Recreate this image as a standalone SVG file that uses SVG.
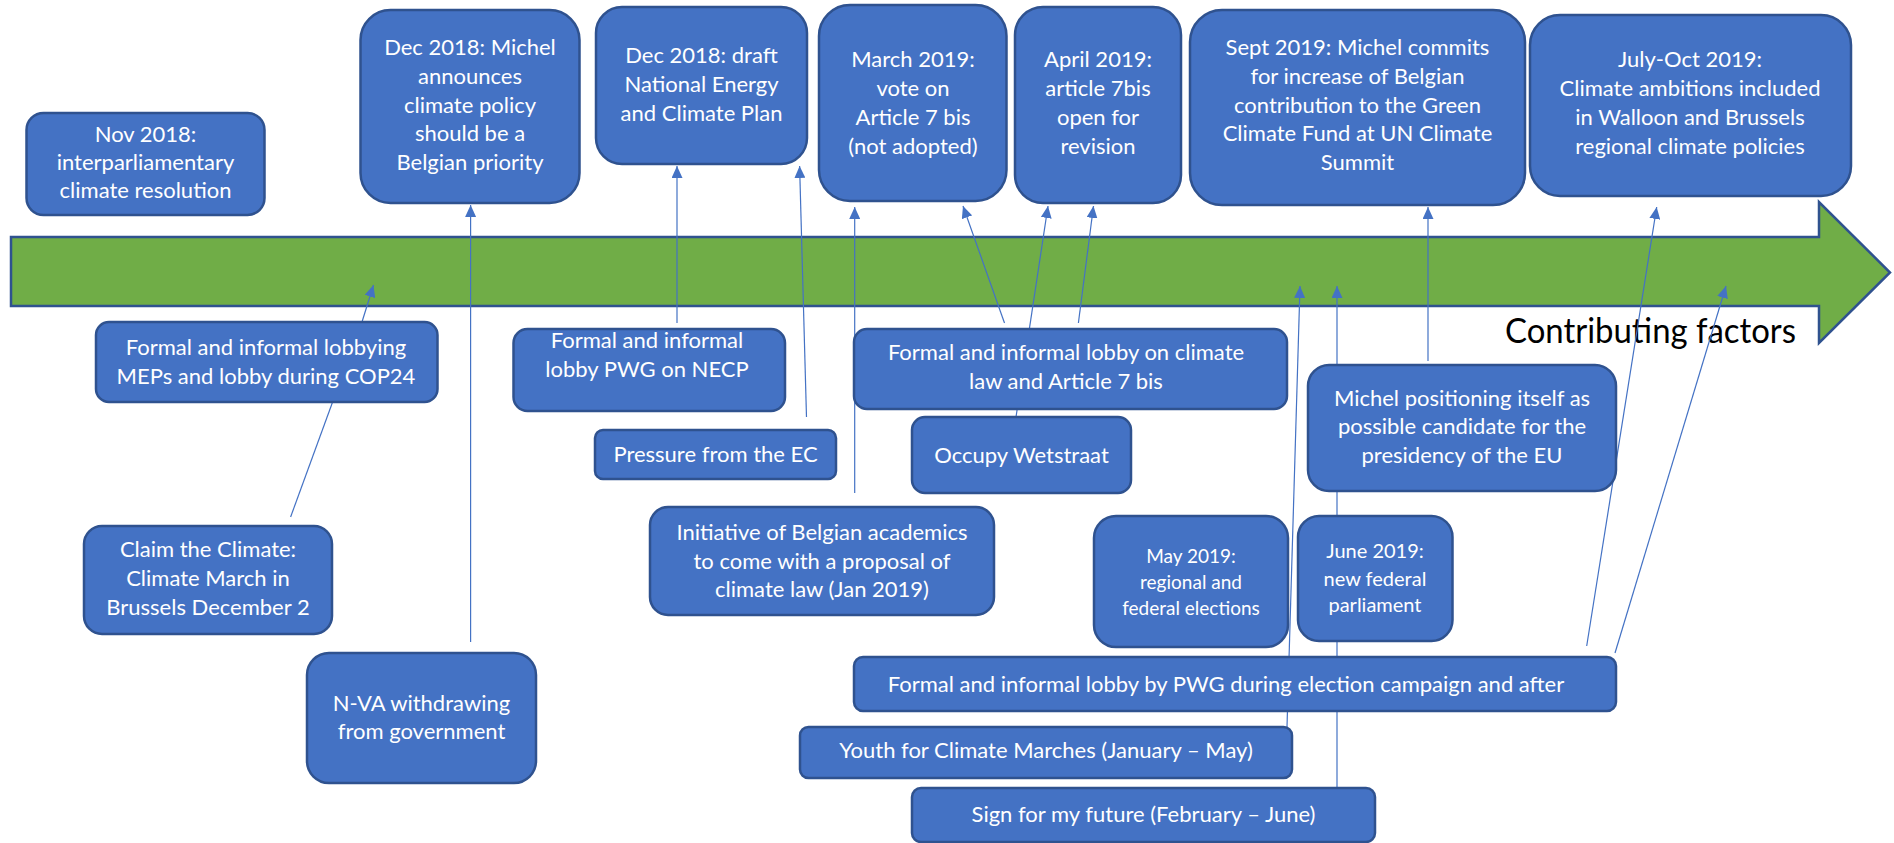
<svg xmlns="http://www.w3.org/2000/svg" width="1894" height="843" viewBox="0 0 1894 843">
<style>
.box{fill:#4472C4;stroke:#2F528F;stroke-width:2.5}
.t{font-family:Lato,"Open Sans","Liberation Sans",sans-serif;font-size:22px;fill:#ffffff;text-anchor:middle}
.ts{font-family:Lato,"Open Sans","Liberation Sans",sans-serif;font-size:19px;fill:#ffffff;text-anchor:middle}
.tj{font-family:Lato,"Open Sans","Liberation Sans",sans-serif;font-size:20px;fill:#ffffff;text-anchor:middle}
.c{stroke:#4472C4;stroke-width:1.2;fill:none}
.ca{stroke:#4472C4;stroke-width:1.2;fill:none;marker-end:url(#ah)}
</style>
<defs>
<marker id="ah" markerUnits="userSpaceOnUse" markerWidth="12" markerHeight="11" refX="12" refY="5.5" orient="auto">
<path d="M0,0 L12,5.5 L0,11 Z" fill="#4472C4"/>
</marker>
</defs>
<rect width="1894" height="843" fill="#ffffff"/>
<g id="timeline">
<path d="M11,237 L1819,237 L1819,202 L1890,272.5 L1819,343 L1819,306 L11,306 Z" fill="#70AD47" stroke="#2F528F" stroke-width="2.5"/>
<text x="1505" y="343" font-family="Lato,'Open Sans','Liberation Sans',sans-serif" font-size="34" fill="#000000" textLength="291" lengthAdjust="spacingAndGlyphs">Contributing factors</text>
</g>
<g id="connectors">
<line class="ca" x1="362" y1="322" x2="373.5" y2="285"/>
<line class="c" x1="290.6" y1="517" x2="332.6" y2="402"/>
<line class="ca" x1="470.6" y1="642" x2="470.6" y2="205"/>
<line class="ca" x1="677" y1="323" x2="677" y2="166"/>
<line class="ca" x1="806.5" y1="417" x2="799.6" y2="166"/>
<line class="ca" x1="854.7" y1="493" x2="854.7" y2="207"/>
<line class="ca" x1="1004.5" y1="323" x2="963" y2="206"/>
<line class="ca" x1="1016" y1="417" x2="1048" y2="206"/>
<line class="ca" x1="1078.4" y1="323" x2="1093.5" y2="206"/>
<line class="ca" x1="1287" y1="727" x2="1300" y2="286"/>
<line class="ca" x1="1337" y1="787" x2="1337" y2="286"/>
<line class="ca" x1="1428" y1="361" x2="1428" y2="207"/>
<line class="ca" x1="1586.7" y1="646" x2="1656.7" y2="207"/>
<line class="ca" x1="1615" y1="653" x2="1726" y2="286"/>
</g>
<g id="nov2018">
<rect class="box" x="26.5" y="113" width="238" height="102" rx="17"/>
<text class="t" x="145.5" y="142">Nov 2018:</text>
<text class="t" x="145.5" y="170">interparliamentary</text>
<text class="t" x="145.5" y="198">climate resolution</text>
</g>
<g id="dec2018michel">
<rect class="box" x="360.5" y="10" width="219" height="193" rx="30"/>
<text class="t" x="470" y="55">Dec 2018: Michel</text>
<text class="t" x="470" y="84">announces</text>
<text class="t" x="470" y="112.5">climate policy</text>
<text class="t" x="470" y="141">should be a</text>
<text class="t" x="470" y="169.5">Belgian priority</text>
</g>
<g id="dec2018draft">
<rect class="box" x="596" y="7" width="211" height="157" rx="26"/>
<text class="t" x="701.5" y="63">Dec 2018: draft</text>
<text class="t" x="701.5" y="92">National Energy</text>
<text class="t" x="701.5" y="121">and Climate Plan</text>
</g>
<g id="march2019">
<rect class="box" x="819" y="5" width="187.5" height="196" rx="31"/>
<text class="t" x="913" y="66.5">March 2019:</text>
<text class="t" x="913" y="95.5">vote on</text>
<text class="t" x="913" y="124.5">Article 7 bis</text>
<text class="t" x="913" y="153.5">(not adopted)</text>
</g>
<g id="april2019">
<rect class="box" x="1015" y="7" width="166" height="196" rx="28"/>
<text class="t" x="1098" y="66.5">April 2019:</text>
<text class="t" x="1098" y="95.5">article 7bis</text>
<text class="t" x="1098" y="124.5">open for</text>
<text class="t" x="1098" y="153.5">revision</text>
</g>
<g id="sept2019">
<rect class="box" x="1190" y="10" width="335" height="195" rx="32"/>
<text class="t" x="1357.5" y="55">Sept 2019: Michel commits</text>
<text class="t" x="1357.5" y="84">for increase of Belgian</text>
<text class="t" x="1357.5" y="112.5">contribution to the Green</text>
<text class="t" x="1357.5" y="141">Climate Fund at UN Climate</text>
<text class="t" x="1357.5" y="169.5">Summit</text>
</g>
<g id="julyoct2019">
<rect class="box" x="1530" y="15" width="321" height="181" rx="30"/>
<text class="t" x="1690" y="66.5">July-Oct 2019:</text>
<text class="t" x="1690" y="95.5">Climate ambitions included</text>
<text class="t" x="1690" y="124.5">in Walloon and Brussels</text>
<text class="t" x="1690" y="153.5">regional climate policies</text>
</g>
<g id="lobbyMEPs">
<rect class="box" x="96" y="322" width="341.5" height="80" rx="13"/>
<text class="t" x="266" y="355">Formal and informal lobbying</text>
<text class="t" x="266" y="384">MEPs and lobby during COP24</text>
</g>
<g id="claimClimate">
<rect class="box" x="84" y="526" width="248" height="108" rx="18"/>
<text class="t" x="208" y="557">Claim the Climate:</text>
<text class="t" x="208" y="586">Climate March in</text>
<text class="t" x="208" y="615">Brussels December 2</text>
</g>
<g id="nva">
<rect class="box" x="307" y="653" width="229" height="130" rx="22"/>
<text class="t" x="421.5" y="711">N-VA withdrawing</text>
<text class="t" x="421.5" y="739">from government</text>
</g>
<g id="lobbyNECP">
<rect class="box" x="513.5" y="329" width="271.5" height="82" rx="14"/>
<text class="t" x="647" y="348">Formal and informal</text>
<text class="t" x="647" y="377">lobby PWG on NECP</text>
</g>
<g id="pressureEC">
<rect class="box" x="595" y="430" width="241" height="49" rx="8"/>
<text class="t" x="715.5" y="462">Pressure from the EC</text>
</g>
<g id="lobbyClimateLaw">
<rect class="box" x="854" y="329" width="433" height="80" rx="13"/>
<text class="t" x="1066" y="360">Formal and informal lobby on climate</text>
<text class="t" x="1066" y="389">law and Article 7 bis</text>
</g>
<g id="occupy">
<rect class="box" x="912" y="417" width="219" height="76" rx="13"/>
<text class="t" x="1021.5" y="463">Occupy Wetstraat</text>
</g>
<g id="initiative">
<rect class="box" x="650" y="507" width="344" height="108" rx="18"/>
<text class="t" x="822" y="540">Initiative of Belgian academics</text>
<text class="t" x="822" y="568.5">to come with a proposal of</text>
<text class="t" x="822" y="597">climate law (Jan 2019)</text>
</g>
<g id="may2019">
<rect class="box" x="1094" y="516" width="194" height="131" rx="22"/>
<text class="ts" x="1191" y="563">May 2019:</text>
<text class="ts" x="1191" y="589">regional and</text>
<text class="ts" x="1191" y="615">federal elections</text>
</g>
<g id="june2019">
<rect class="box" x="1298" y="516" width="154.5" height="125" rx="21"/>
<text class="tj" x="1375" y="558">June 2019:</text>
<text class="tj" x="1375" y="586">new federal</text>
<text class="tj" x="1375" y="612">parliament</text>
</g>
<g id="michelPositioning">
<rect class="box" x="1308" y="365" width="308" height="126" rx="21"/>
<text class="t" x="1462" y="406">Michel positioning itself as</text>
<text class="t" x="1462" y="434">possible candidate for the</text>
<text class="t" x="1462" y="462.5">presidency of the EU</text>
</g>
<g id="lobbyElection">
<rect class="box" x="854" y="657" width="762" height="54" rx="9"/>
<text class="t" x="1226" y="692">Formal and informal lobby by PWG during election campaign and after</text>
</g>
<g id="youth">
<rect class="box" x="800" y="727" width="492" height="51" rx="8.5"/>
<text class="t" x="1046" y="758">Youth for Climate Marches (January – May)</text>
</g>
<g id="signFuture">
<rect class="box" x="912" y="788" width="463" height="54" rx="9"/>
<text class="t" x="1143.5" y="822">Sign for my future (February – June)</text>
</g>
</svg>
